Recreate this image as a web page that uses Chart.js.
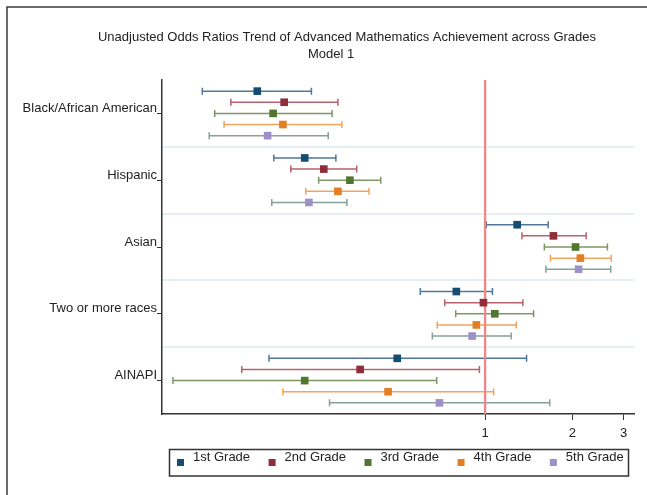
<!DOCTYPE html>
<html>
<head>
<meta charset="utf-8">
<script src="https://cdn.jsdelivr.net/npm/chart.js@4/dist/chart.umd.min.js"></script>
<style>
  html, body { margin: 0; padding: 0; background: #fff; }
  canvas { display: block; }
</style>
</head>
<body>
<canvas id="chart" width="647" height="495"></canvas>
<script>
// Groups on the vertical axis, grades as series, ticks on the log axis
const groups = ['Black/African American', 'Hispanic', 'Asian', 'Two or more races', 'AINAPI'];
const grades = ['1st Grade', '2nd Grade', '3rd Grade', '4th Grade', '5th Grade'];
const xTicks = [1, 2, 3];

// Odds ratios with lower / upper confidence limits, one entry per group
const or1 = [0.164, 0.239, 1.29, 0.796, 0.498];
const lo1 = [0.106, 0.187, 1.01, 0.598, 0.180];
const hi1 = [0.252, 0.306, 1.65, 1.06, 1.39];

const or2 = [0.203, 0.278, 1.72, 0.987, 0.371];
const lo2 = [0.133, 0.214, 1.34, 0.726, 0.145];
const hi2 = [0.311, 0.361, 2.23, 1.35, 0.956];

const or3 = [0.186, 0.342, 2.05, 1.08, 0.239];
const lo3 = [0.117, 0.267, 1.60, 0.792, 0.084];
const hi3 = [0.297, 0.437, 2.64, 1.47, 0.681];

const or4 = [0.201, 0.311, 2.13, 0.933, 0.463];
const lo4 = [0.126, 0.241, 1.68, 0.684, 0.201];
const hi4 = [0.321, 0.398, 2.72, 1.28, 1.07];

const or5 = [0.178, 0.247, 2.10, 0.902, 0.696];
const lo5 = [0.112, 0.184, 1.62, 0.658, 0.291];
const hi5 = [0.288, 0.334, 2.71, 1.23, 1.67];

const markerColors = ['#154c72', '#8f2d3a', '#52752f', '#e37f22', '#9d91c9'];
const whiskerColors = ['#50779a', '#b8606c', '#7d9866', '#f1a55e', '#86a09a'];

const FONT = '"Liberation Sans", Arial, Helvetica, sans-serif';
const INK = '#222';

const series = [
  [or1, lo1, hi1],
  [or2, lo2, hi2],
  [or3, lo3, hi3],
  [or4, lo4, hi4],
  [or5, lo5, hi5]
];

// each grade sits at its own slot inside a group band
const datasets = grades.map((g, k) => ({
  label: g,
  yAxisID: 'y',
  data: series[k][0].map((v, i) => ({ x: v, y: i + (k - 2) / 6 })),
  lower: series[k][1],
  upper: series[k][2],
  whiskerColor: whiskerColors[k],
  pointStyle: 'rect',
  pointRadius: 5.4,
  pointHoverRadius: 5.4,
  backgroundColor: markerColors[k],
  borderColor: markerColors[k],
  borderWidth: 0,
  showLine: false
}));

// white page and outer frame
const framePlugin = {
  id: 'frame',
  beforeDraw(chart) {
    const ctx = chart.ctx;
    ctx.save();
    ctx.fillStyle = '#fff';
    ctx.fillRect(0, 0, chart.width, chart.height);
    ctx.restore();
  },
  afterDraw(chart) {
    const ctx = chart.ctx;
    ctx.save();
    ctx.strokeStyle = '#3a3a3a';
    ctx.lineWidth = 1.5;
    ctx.strokeRect(7, 7, chart.width + 20, chart.height + 20);
    ctx.restore();
  }
};

// two-line heading
const headingPlugin = {
  id: 'heading',
  afterDraw(chart) {
    const ctx = chart.ctx;
    ctx.save();
    ctx.fillStyle = INK;
    ctx.font = '13px ' + FONT;
    ctx.textAlign = 'center';
    ctx.textBaseline = 'middle';
    ctx.fillText('Unadjusted Odds Ratios Trend of Advanced Mathematics Achievement across Grades', 347, 37);
    ctx.fillText('Model 1', 331, 54);
    ctx.restore();
  }
};

// confidence-interval whiskers, then the reference line at OR = 1
const intervalPlugin = {
  id: 'intervals',
  beforeDatasetsDraw(chart) {
    const ctx = chart.ctx;
    const xs = chart.scales.x;
    const area = chart.chartArea;
    ctx.save();
    chart.data.datasets.forEach((ds, k) => {
      const meta = chart.getDatasetMeta(k);
      ctx.strokeStyle = ds.whiskerColor;
      ctx.lineWidth = 1.5;
      meta.data.forEach((pt, i) => {
        const y = pt.y;
        const x0 = xs.getPixelForValue(ds.lower[i]);
        const x1 = xs.getPixelForValue(ds.upper[i]);
        ctx.beginPath();
        ctx.moveTo(x0, y); ctx.lineTo(x1, y);
        ctx.moveTo(x0, y - 3.5); ctx.lineTo(x0, y + 3.5);
        ctx.moveTo(x1, y - 3.5); ctx.lineTo(x1, y + 3.5);
        ctx.stroke();
      });
    });
    const xr = xs.getPixelForValue(1);
    ctx.strokeStyle = '#f08686';
    ctx.lineWidth = 2.3;
    ctx.beginPath();
    ctx.moveTo(xr, area.top);
    ctx.lineTo(xr, area.bottom);
    ctx.stroke();
    ctx.restore();
  }
};

// boxed legend row under the axis
const legendPlugin = {
  id: 'boxLegend',
  afterDraw(chart) {
    const ctx = chart.ctx;
    ctx.save();
    ctx.font = '13px ' + FONT;
    ctx.textBaseline = 'middle';
    ctx.textAlign = 'left';
    let x = 177;
    chart.data.datasets.forEach((ds, k) => {
      ctx.fillStyle = markerColors[k];
      ctx.fillRect(x, 459, 7, 7);
      ctx.fillStyle = INK;
      ctx.fillText(ds.label, x + 16, 457.5);
      x += 16 + ctx.measureText(ds.label).width + 18.5;
    });
    ctx.strokeStyle = '#333';
    ctx.lineWidth = 1.5;
    ctx.strokeRect(169.5, 449.5, 459, 26.5);
    ctx.restore();
  }
};

new Chart(document.getElementById('chart'), {
  type: 'scatter',
  data: { datasets },
  plugins: [framePlugin, intervalPlugin, headingPlugin, legendPlugin],
  options: {
    responsive: false,
    animation: false,
    devicePixelRatio: 1,
    layout: { padding: { top: 80, right: 13, left: 0, bottom: 0 } },
    plugins: {
      legend: { display: false },
      title: { display: false },
      tooltip: { enabled: false }
    },
    scales: {
      x: {
        type: 'logarithmic',
        min: 0.077,
        max: 3.26,
        afterBuildTicks: s => { s.ticks = xTicks.map(v => ({ value: v, major: false })); },
        afterFit: s => { s.height = 81; },
        ticks: {
          callback: v => String(v),
          font: { family: FONT, size: 13 },
          color: INK,
          padding: 6,
          autoSkip: false,
          maxRotation: 0
        },
        grid: { drawOnChartArea: false, drawTicks: true, tickLength: 6, color: '#333', lineWidth: 1 },
        border: { display: true, color: '#333', width: 1.5 }
      },
      y: {
        type: 'linear',
        min: -0.5,
        max: 4.5,
        reverse: true,
        afterBuildTicks: s => { s.ticks = groups.map((_, i) => ({ value: i })); },
        afterFit: s => { s.width = 162; },
        ticks: {
          callback: v => groups[v],
          font: { family: FONT, size: 13 },
          color: INK,
          padding: 0,
          labelOffset: -5,
          autoSkip: false
        },
        grid: { drawOnChartArea: false, drawTicks: true, tickLength: 5, color: '#333', lineWidth: 1 },
        border: { display: true, color: '#333', width: 1.5 }
      },
      bands: {
        type: 'linear',
        axis: 'y',
        position: 'right',
        min: -0.5,
        max: 4.5,
        reverse: true,
        afterBuildTicks: s => { s.ticks = [0.5, 1.5, 2.5, 3.5].map(v => ({ value: v })); },
        afterFit: s => { s.width = 0; },
        ticks: { display: false },
        grid: { drawOnChartArea: true, drawTicks: false, color: '#e6f0f4', lineWidth: 2 },
        border: { display: false }
      }
    }
  }
});
</script>
</body>
</html>
